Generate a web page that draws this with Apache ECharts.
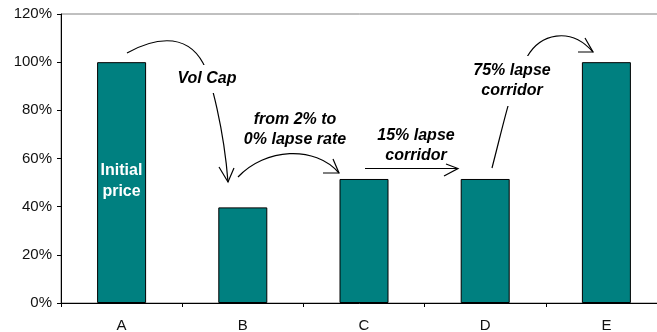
<!DOCTYPE html>
<html>
<head>
<meta charset="utf-8">
<script src="https://cdn.jsdelivr.net/npm/echarts@6/dist/echarts.min.js"></script>
<style>
html,body{margin:0;padding:0;background:#fff;}
#chart{width:657px;height:332px;}
</style>
</head>
<body>
<div id="chart"></div>
<script>
var categories = ['A', 'B', 'C', 'D', 'E'];
var values = [100, 39.7, 51.5, 51.5, 100];
var yTicks = { min: 0, max: 120, interval: 20 };

var FONT = '"Liberation Sans", Arial, sans-serif';
var chart = echarts.init(document.getElementById('chart'), null, { renderer: 'canvas' });

function annText(x, y, text, pad) {
  var st = {
    text: text, align: 'center', verticalAlign: 'middle',
    font: 'italic bold 16px ' + FONT, fill: '#000', lineHeight: 20
  };
  if (pad) { st.backgroundColor = '#fff'; st.padding = pad; }
  return { type: 'text', z: 20, x: x, y: y, style: st };
}
function bez(p) {
  return { type: 'bezierCurve', z: 10,
    shape: { x1: p[0], y1: p[1], cpx1: p[2], cpy1: p[3], cpx2: p[4], cpy2: p[5], x2: p[6], y2: p[7] },
    style: { stroke: '#000', lineWidth: 1.2, fill: null } };
}
function seg(x1, y1, x2, y2) {
  return { type: 'line', z: 10, shape: { x1: x1, y1: y1, x2: x2, y2: y2 },
    style: { stroke: '#000', lineWidth: 1.2 } };
}
function head(pts) {
  return { type: 'polyline', z: 10, shape: { points: pts },
    style: { stroke: '#000', lineWidth: 1.2, fill: null } };
}

var option = {
  backgroundColor: '#fff',
  animation: false,
  grid: { left: 61, top: 14, width: 606, bottom: 29, outerBoundsMode: 'none', containLabel: false,
    show: true, borderColor: '#808080', borderWidth: 1, backgroundColor: 'transparent' },
  xAxis: {
    type: 'category', data: categories,
    axisLine: { lineStyle: { color: '#000', width: 1 } },
    axisTick: { show: true, length: 4, inside: false, alignWithLabel: false, lineStyle: { color: '#000' } },
    axisLabel: { fontFamily: FONT, fontSize: 15, color: '#111', margin: 15 },
    splitLine: { show: false }
  },
  yAxis: {
    type: 'value', min: yTicks.min, max: yTicks.max, interval: yTicks.interval,
    axisLine: { show: true, lineStyle: { color: '#000', width: 1 } },
    axisTick: { show: true, length: 4, lineStyle: { color: '#000' } },
    axisLabel: { fontFamily: FONT, fontSize: 15, color: '#111', margin: 9, formatter: '{value}%' },
    splitLine: { show: false }
  },
  series: [{
    type: 'bar', data: values, barWidth: 49,
    itemStyle: { color: '#008080', borderColor: '#000', borderWidth: 1 }
  }],
  graphic: [
    // A -> B (Vol Cap)
    bez([127,53, 150,40, 185,30, 203,63]),
    bez([203,63, 211,78, 224,130, 228,182]),
    head([[219,167],[228,182],[234,168]]),
    annText(207, 79, 'Vol Cap', [4, 3]),
    // B -> C
    annText(295, 129.5, 'from 2% to\n0% lapse rate'),
    bez([238,177, 265,148, 315,145, 339,173]),
    head([[333,159],[339,173],[323,173]]),
    // C -> D
    annText(416, 145.5, '15% lapse\ncorridor'),
    seg(365, 168.5, 458, 168.5),
    head([[446,164],[458,168.5],[444,176]]),
    // D -> E
    bez([492,168, 505,118, 512,82, 527,57]),
    bez([527,57, 540,34, 570,26, 593,52]),
    head([[585,38],[593,52],[578,52]]),
    annText(512, 81, '75% lapse\ncorridor', [5, 4]),
    // Initial price label inside bar A
    { type: 'text', z: 20, x: 121.5, y: 181,
      style: { text: 'Initial\nprice', align: 'center', verticalAlign: 'middle',
        font: 'bold 16px ' + FONT, fill: '#fff', lineHeight: 21 } }
  ]
};
chart.setOption(option);
</script>
</body>
</html>
